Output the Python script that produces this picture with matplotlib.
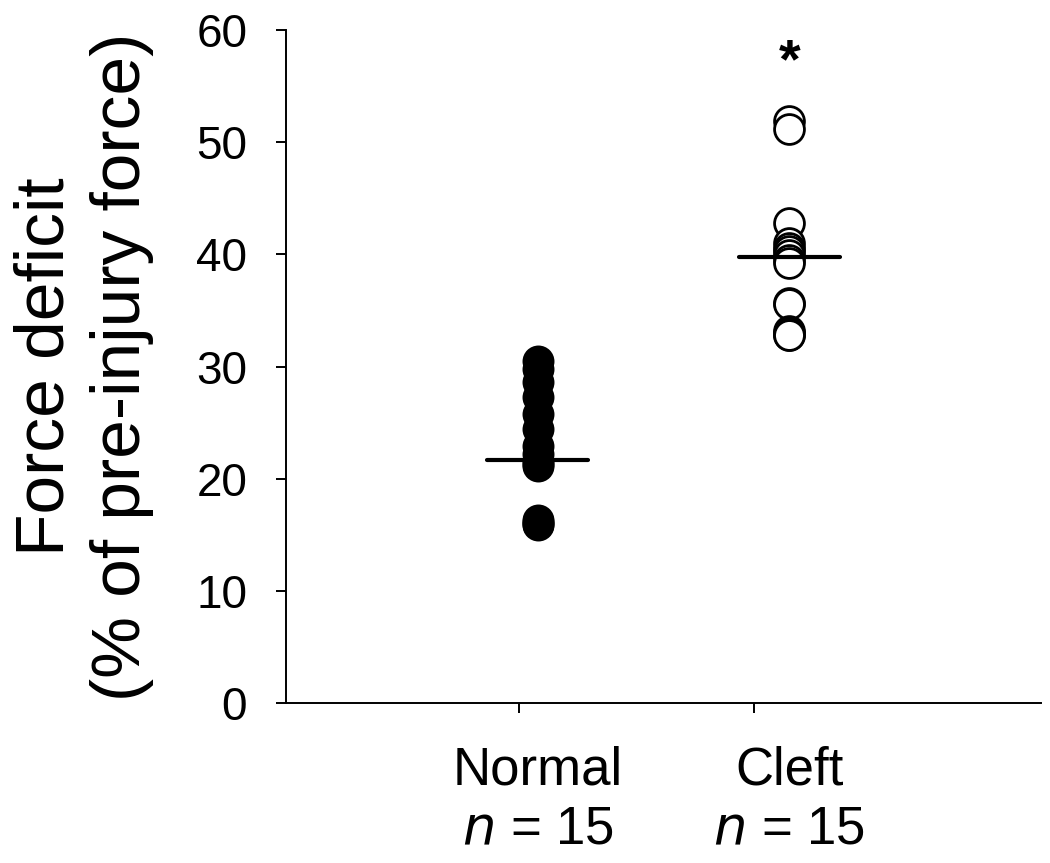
#!/usr/bin/env python3
import numpy as np
import matplotlib
matplotlib.use("Agg")
import matplotlib.pyplot as plt
import matplotlib.transforms as mtransforms

plt.rcParams['font.family'] = ['Liberation Sans', 'DejaVu Sans']

# Data
groups = ['Normal', 'Cleft']
group_n = [15, 15]
normal_values = [30.5, 29.8, 28.6, 27.3, 25.8, 24.4, 22.9, 22.2, 21.6, 21.3, 21.1,
                 16.3, 16.1, 16.0, 15.9]
cleft_values = [51.9, 51.2, 42.8, 41.0, 40.6, 40.3, 39.9, 39.5, 39.2, 35.7, 35.6,
                33.2, 33.0, 32.8, 32.8]
group_means = [21.7, 39.8]
sig_marks = ['', '*']

fig = plt.figure(figsize=(10.5, 8.63), dpi=100)
ax = fig.add_axes([0.2724, 0.1854, 0.719, 0.7798])

xpos = [1, 2]
ax.plot([xpos[0]] * len(normal_values), normal_values, 'o', color='black',
        markersize=23, markeredgewidth=0, zorder=3)
ax.plot([xpos[1]] * len(cleft_values), cleft_values, 'o', markerfacecolor='white',
        markeredgecolor='black', markersize=21.5, markeredgewidth=2, zorder=3)

# group mean lines
for x, m in zip(xpos, group_means):
    ax.plot([x - 0.2, x + 0.2], [m, m], color='black', lw=3, solid_capstyle='round', zorder=4)

for x, s in zip(xpos, sig_marks):
    if s:
        ax.text(x, 57.0, s, ha='center', va='center', fontsize=40, fontweight='bold')

ax.set_xlim(0, 3)
ax.set_ylim(0, 60)
ax.set_yticks(np.arange(0, 61, 10))
ax.tick_params(axis='y', labelsize=33, length=7, width=1.4, pad=21, direction='out')
ax.set_xticks([0.924, 1.86])
ax.set_xticklabels([])
ax.tick_params(axis='x', length=7, width=1.4, direction='out')

for side in ['top', 'right']:
    ax.spines[side].set_visible(False)
for side in ['left', 'bottom']:
    ax.spines[side].set_linewidth(1.4)

trans = mtransforms.blended_transform_factory(ax.transData, ax.transAxes)
for x, g, n in zip(xpos, groups, group_n):
    ax.text(x, -0.1, g, transform=trans, ha='center', va='center', fontsize=38)
    ax.text(x, -0.19, r'$\it{n}$' + ' = %d' % n, transform=trans, ha='center', va='center',
            fontsize=38)

fig.text(46 / 1050, 1 - 367 / 863, 'Force deficit', rotation=90, ha='center', va='center',
         fontsize=50)
fig.text(122 / 1050, 1 - 367 / 863, '(% of pre-injury force)', rotation=90, ha='center',
         va='center', fontsize=50)

fig.savefig('out.png', dpi=100)
